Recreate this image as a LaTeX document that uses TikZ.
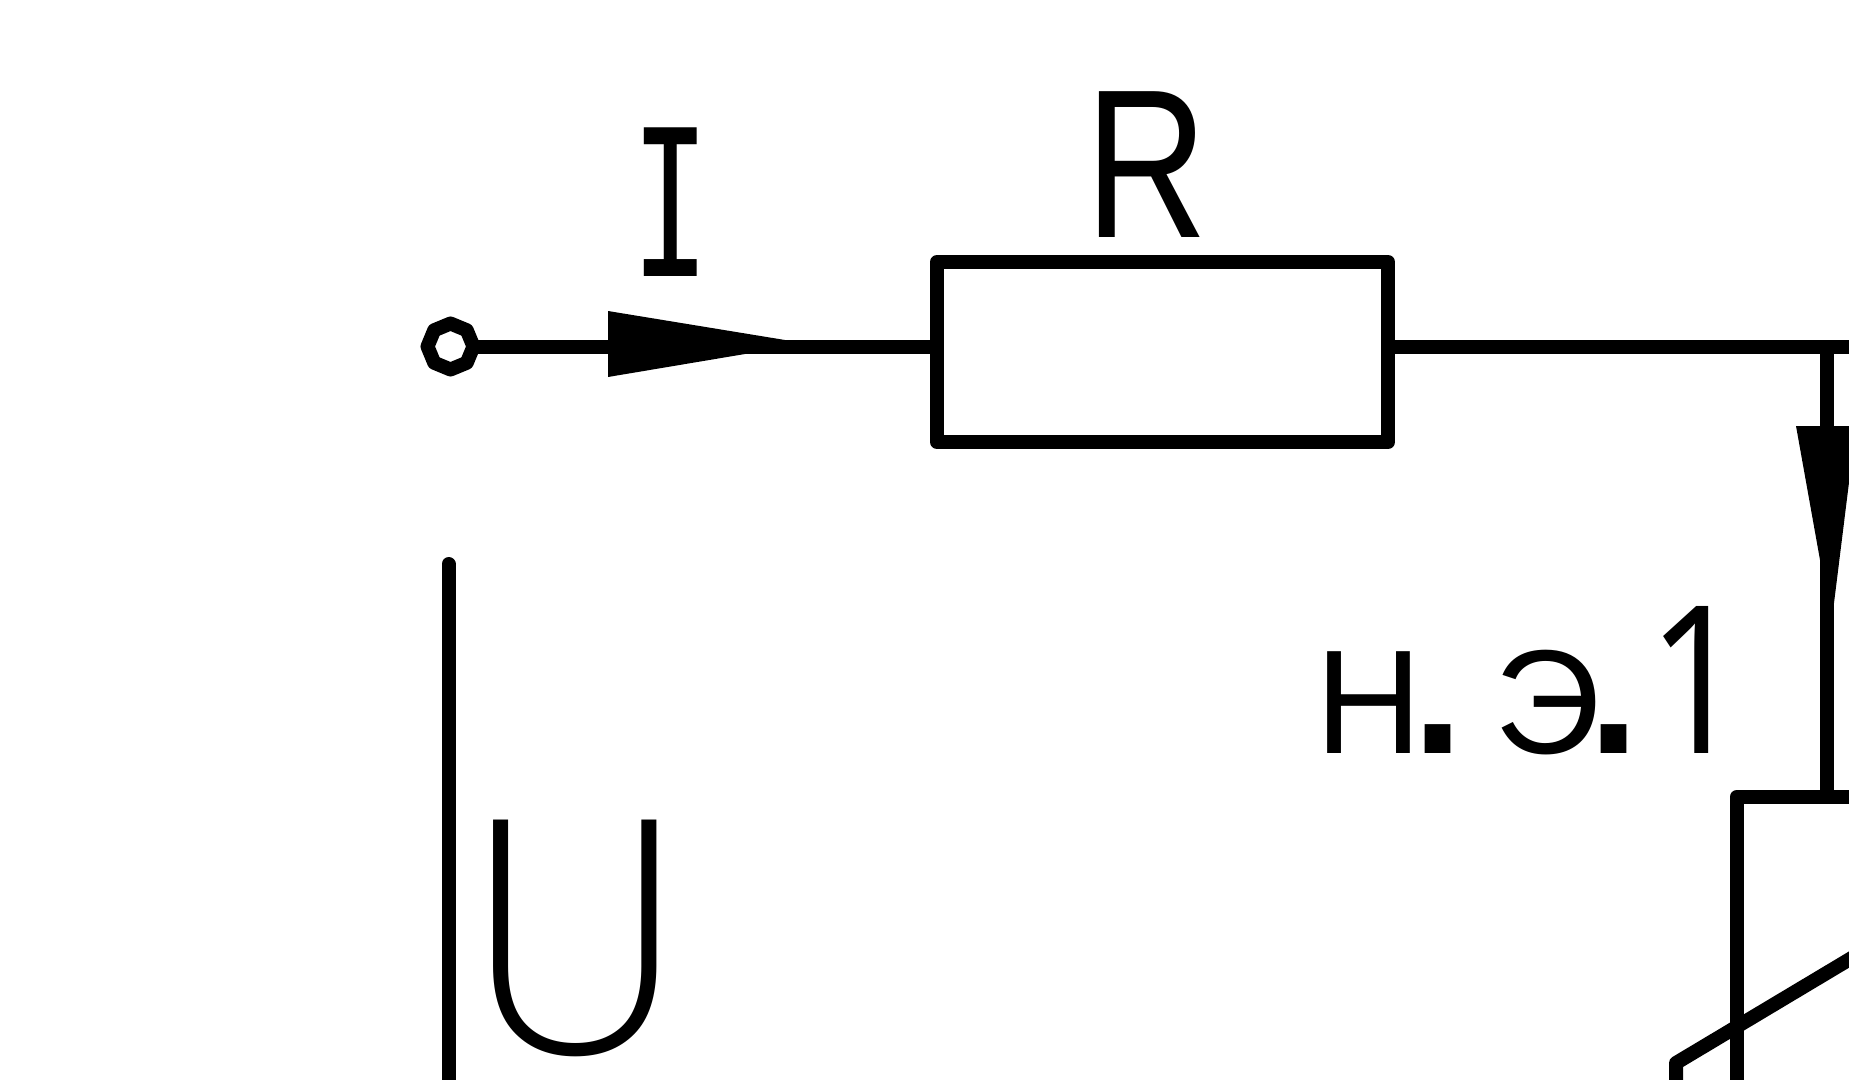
\documentclass[tikz,border=0pt]{standalone}
\usepackage{fontspec}
\usetikzlibrary{shapes.geometric}
\setmainfont{Liberation Sans}
\newfontfamily\monof{DejaVu Sans Mono}
\newfontfamily\thinf{Poppins ExtraLight}
\newfontfamily\digitf{Open Sans}
\newcommand{\fs}[1]{\fontsize{#1pt}{#1pt}\selectfont}
\tikzset{
  wire/.style={line width=14pt,line join=round,line cap=butt,draw=black},
  freeline/.style={wire,line cap=round},
  lab/.style={inner sep=0pt,outer sep=0pt,anchor=base,text=black},
  comp/.style={wire,rectangle,inner sep=0pt,outer sep=0pt,anchor=north west},
  head/.style={fill=black,draw=none}
}
\begin{document}
\begin{tikzpicture}[x=1pt,y=-1pt]
\useasboundingbox (0,0) rectangle (1849,1079);
\clip (0,0) rectangle (1849,1079);
% components
\node[wire,regular polygon,regular polygon sides=8,shape border rotate=22.5,minimum size=46pt,inner sep=0pt,outer sep=0pt] (term) at (450.5,346.5) {};
\node[comp,minimum width=451pt,minimum height=180pt] (res) at (937,262) {};
\node[comp,minimum width=500pt,minimum height=700pt] (box) at (1736.5,797) {};
\coordinate (rightend) at (1860,346.5);
\coordinate (nodeA) at (1826.5,346.5);
\coordinate (boxin) at (1826.5,797);
% wires
\draw[wire] (term) -- (term -| res.west);
\draw[wire] (term -| res.east) -- (rightend);
\draw[wire] (nodeA) -- (boxin);
% arrowheads
\fill[head] (608,311) -- (785,340) -- (745,354) -- (608,377) -- cycle;
\fill[head] (1796,426) -- (1856,426) -- (1834,603) -- (1820,560) -- cycle;
% diagonal characteristic
\coordinate (d1) at (1676,1100);
\coordinate (d2) at (1676,1063);
\coordinate (d3) at (1860,953);
\draw[wire] (d1) -- (d2) -- (d3);
% voltage line
\coordinate (v1) at (448.5,564);
\coordinate (v2) at (448.5,1100);
\draw[freeline] (v1) -- (v2);
% labels
\node[lab] (labI) at (671,276) {\monof\fs{204}\scalebox{.64}[1]{I}};
\node[lab,anchor=base west] (labR) at (1085,237) {\fs{212}\scalebox{.8}[1]{R}};
\node[lab] (labU) at (575,1054) {\raisebox{0pt}[\height][0pt]{\thinf\fs{334}\scalebox{1}[1]{U}}};
\node[lab,anchor=base west] (labN) at (1315,753) {\fs{148}Н\kern-21pt{\fs{270}.}\kern19ptЭ\kern-25pt{\fs{270}.}\kern-4pt{\digitf\fs{206}\scalebox{.85}[1]{1}}};
\end{tikzpicture}
\end{document}
